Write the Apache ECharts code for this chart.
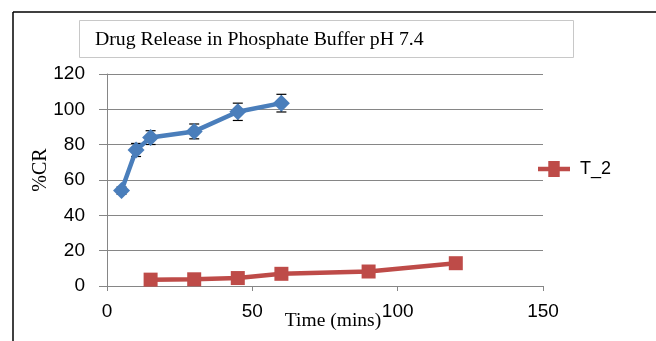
<!DOCTYPE html>
<html>
<head>
<meta charset="utf-8">
<script src="https://cdn.jsdelivr.net/npm/echarts@6/dist/echarts.min.js"></script>
<style>
  html, body { margin: 0; padding: 0; background: #fff; }
  #chart { width: 656px; height: 341px; }
</style>
</head>
<body>
<div id="chart"></div>
<script>
// blue series (no legend entry in the original)
const timeA = [5, 10, 15, 30, 45, 60]
const crA = [54, 77, 84, 87.5, 98.6, 103.5]
const errA = [2, 3.7, 3.9, 4.2, 4.9, 5]

// T_2
const timeB = [15, 30, 45, 60, 90, 120]
const crB = [3.6, 3.8, 4.5, 6.9, 8.2, 12.9]

const xTicks = [0, 50, 100, 150]
const yTicks = [0, 20, 40, 60, 80, 100, 120]

const blue = '#4a7ebb'
const red = '#be4b48'
const grey = '#868686'

const chart = echarts.init(document.getElementById('chart'))

const errData = timeA.map((t, i) => [t, crA[i] - errA[i], crA[i] + errA[i]])

chart.setOption({
  animation: false,
  grid: { left: 107, right: 113, top: 74, bottom: 55, outerBoundsMode: 'none' },
  graphic: [
    { type: 'line', shape: { x1: 13, y1: 12, x2: 656, y2: 12 }, style: { stroke: '#000', lineWidth: 1.5 } },
    { type: 'line', shape: { x1: 13, y1: 12, x2: 13, y2: 341 }, style: { stroke: '#000', lineWidth: 1.5 } },
    { type: 'rect', shape: { x: 79.5, y: 20.5, width: 494, height: 37 }, style: { fill: '#fff', stroke: '#c8c8c8', lineWidth: 1 } },
    {
      type: 'text', x: 95, y: 40,
      style: { text: 'Drug Release in Phosphate Buffer pH 7.4', font: '19.8px "Liberation Serif"', fill: '#000', verticalAlign: 'middle' }
    }
  ],
  legend: {
    data: [{ name: 'T_2', icon: 'path://M0,5h9v-5h10v5h9v4h-9v5h-10v-5h-9z' }],
    left: 533, top: 155,
    itemWidth: 46, itemHeight: 16, itemGap: 4,
    textStyle: { fontFamily: 'Liberation Sans', fontSize: 18, color: '#000', padding: [0, 0, 0, -2] }
  },
  xAxis: {
    type: 'value', min: 0, max: 150, interval: 50,
    name: 'Time (mins)', nameLocation: 'middle', nameGap: 25, nameMoveOverlap: false,
    nameTextStyle: { fontFamily: 'Liberation Serif', fontSize: 19.5, color: '#000', padding: [0, 0, 0, 16] },
    axisLine: { show: true, lineStyle: { color: grey } },
    axisTick: { show: true, length: 5, lineStyle: { color: grey } },
    axisLabel: { fontFamily: 'Liberation Sans', fontSize: 19, color: '#000', margin: 16,
      formatter: v => xTicks.includes(v) ? String(v) : '' },
    splitLine: { show: false }
  },
  yAxis: {
    type: 'value', min: 0, max: 120, interval: 20,
    name: '%CR', nameLocation: 'middle', nameGap: 56, nameRotate: 90, nameMoveOverlap: false,
    nameTextStyle: { fontFamily: 'Liberation Serif', fontSize: 20, color: '#000', padding: [0, 0, 0, 20] },
    axisLine: { show: true, lineStyle: { color: grey } },
    axisTick: { show: true, length: 8, lineStyle: { color: grey } },
    axisLabel: { fontFamily: 'Liberation Sans', fontSize: 19, color: '#000', margin: 22,
      formatter: v => yTicks.includes(v) ? String(v) : '' },
    splitLine: { show: true, lineStyle: { color: grey } }
  },
  series: [
    {
      name: 'T_1', type: 'line',
      data: timeA.map((t, i) => [t, crA[i]]),
      symbol: 'diamond', symbolSize: 17,
      lineStyle: { color: blue, width: 4.5 },
      itemStyle: { color: blue },
      z: 3
    },
    {
      name: 'errA', type: 'custom',
      data: errData,
      renderItem: (params, api) => {
        const x = api.value(0)
        const lo = api.coord([x, api.value(1)])
        const hi = api.coord([x, api.value(2)])
        const w = 5
        const st = { stroke: '#000', lineWidth: 1.2 }
        return {
          type: 'group',
          children: [
            { type: 'line', shape: { x1: lo[0], y1: lo[1], x2: hi[0], y2: hi[1] }, style: st },
            { type: 'line', shape: { x1: lo[0] - w, y1: lo[1], x2: lo[0] + w, y2: lo[1] }, style: st },
            { type: 'line', shape: { x1: hi[0] - w, y1: hi[1], x2: hi[0] + w, y2: hi[1] }, style: st }
          ]
        }
      },
      z: 2
    },
    {
      name: 'T_2', type: 'line',
      data: timeB.map((t, i) => [t, crB[i]]),
      symbol: 'rect', symbolSize: 14,
      lineStyle: { color: red, width: 4.5 },
      itemStyle: { color: red },
      z: 3
    }
  ]
})
</script>
</body>
</html>
